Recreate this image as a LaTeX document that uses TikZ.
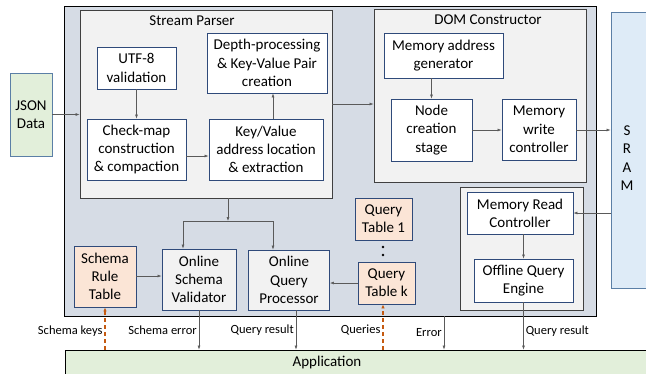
\documentclass[tikz,border=0pt]{standalone}
\usepackage{fontspec}
\setmainfont{Carlito}
\usepackage{tikz}
\usetikzlibrary{arrows.meta, positioning, calc}
\definecolor{chipbg}{RGB}{214,220,229}
\definecolor{groupbg}{RGB}{242,242,242}
\definecolor{navyline}{RGB}{47,74,122}
\definecolor{datagreen}{RGB}{226,239,218}
\definecolor{tablepeach}{RGB}{251,229,214}
\definecolor{srambg}{RGB}{222,235,247}
\definecolor{sramline}{RGB}{91,127,166}
\definecolor{keyorange}{RGB}{197,90,17}
\definecolor{wiregray}{RGB}{90,90,90}

\begin{document}
\begin{tikzpicture}[x=1pt, y=-1pt,
    box/.style={draw=navyline, line width=0.9pt, fill=white, align=center, inner sep=0pt,
                font=\fontsize{15}{18.3}\selectfont},
    graybox/.style={box, fill=groupbg},
    tablebox/.style={box, fill=tablepeach},
    group/.style={draw=black!75, line width=0.9pt, fill=groupbg, inner sep=0pt},
    title/.style={font=\fontsize{15}{18.3}\selectfont},
    lbl/.style={font=\fontsize{12.5}{14}\selectfont, inner sep=2pt},
    arr/.style={draw=wiregray, line width=0.6pt, -{Latex[length=4pt, width=3pt]}},
    keyarr/.style={draw=keyorange, line width=1.1pt, dashed, dash pattern=on 4pt off 3pt,
                   -{Latex[length=4pt, width=3.5pt]}}]
    \useasboundingbox (0,0) rectangle (646,373);

    % Chip container
    \node[draw=black, line width=0.9pt, fill=chipbg, minimum width=532pt, minimum height=310pt, inner sep=0pt]
        (chip) at (330,161) {};

    % Outside blocks
    \node[draw=sramline, line width=0.9pt, fill=srambg, minimum width=50pt, minimum height=276pt, inner sep=0pt]
        (sram) at (636,150) {};
    \node[title, align=center] (sramtxt) at (627,158) {S\\R\\A\\M};
    \node[draw=black, line width=0.9pt, fill=datagreen, minimum width=600pt, minimum height=30pt, inner sep=0pt]
        (app) at (365,365) {};
    \node[title] (apptxt) at (327,362) {Application};
    \node[box, draw=sramline, fill=datagreen, minimum width=42pt, minimum height=83pt]
        (json) at (31,114.5) {JSON\\Data};

    % Stream parser
    \node[group, minimum width=252pt, minimum height=188pt] (parser) at (206,104) {};
    \node[title] (parsertitle) at (192,21) {Stream Parser};
    \node[box, minimum width=79pt, minimum height=42pt] (utf) at (136.5,68) {UTF-8\\validation};
    \node[box, minimum width=99pt, minimum height=61pt] (check) at (136.5,149.5) {Check-map\\construction\\\& compaction};
    \node[box, minimum width=114pt, minimum height=61pt] (kv) at (266,149.5) {Key/Value\\address location\\\& extraction};
    \node[box, minimum width=120pt, minimum height=60pt] (depth) at (267,63) {Depth-processing\\\& Key-Value Pair\\creation};

    % DOM constructor
    \node[group, minimum width=212pt, minimum height=173pt] (dom) at (480,95.5) {};
    \node[title] (domtitle) at (488,20) {DOM Constructor};
    \node[box, minimum width=119pt, minimum height=45pt] (maddr) at (443.5,55.5) {Memory address\\generator};
    \node[box, minimum width=81pt, minimum height=62pt] (ncs) at (431.5,130) {Node\\creation\\stage};
    \node[box, minimum width=74pt, minimum height=61pt] (mwc) at (539,129.5) {Memory\\write\\controller};

    % Offline path
    \node[group, minimum width=123pt, minimum height=123pt] (offline) at (521.5,248.5) {};
    \node[box, minimum width=106pt, minimum height=42pt] (mrc) at (520,213) {Memory Read\\Controller};
    \node[box, minimum width=99pt, minimum height=43pt] (oqe) at (523.5,280.5) {Offline Query\\Engine};

    % Online path
    \node[tablebox, minimum width=62pt, minimum height=61pt] (srt) at (105,276.5) {Schema\\Rule\\Table};
    \node[graybox, minimum width=74pt, minimum height=61pt] (osv) at (199,279.5) {Online\\Schema\\Validator};
    \node[graybox, minimum width=81pt, minimum height=60pt] (oqp) at (289,280) {Online\\Query\\Processor};
    \node[tablebox, minimum width=57pt, minimum height=42pt] (qt1) at (383.5,219) {Query\\Table 1};
    \node[tablebox, minimum width=57pt, minimum height=42pt] (qtk) at (386.5,283) {Query\\Table k};
    \fill (383,247) circle (1.4pt) (383,255) circle (1.4pt);

    % Connectors inside
    \draw[arr] (json.east) -- (json.east -| parser.west);
    \draw[arr] (utf.south) -- (check.north);
    \draw[arr] (check.east |- 0,156) -- (kv.west |- 0,156);
    \draw[arr] ([xshift=7pt]kv.north) -- ([xshift=7pt]kv.north |- depth.south);
    \draw[arr] (parser.east |- 0,104) -- (dom.west |- 0,104);
    \draw[arr] (ncs.north |- maddr.south) -- (ncs.north);
    \draw[arr] (ncs.east) -- (ncs.east -| mwc.west);
    \draw[arr] (mwc.east |- 0,130) -- (sram.west |- 0,130);
    \draw[arr] (mrc.east -| sram.west) -- (mrc.east);
    \draw[arr] (oqe.north |- mrc.south) -- (oqe.north);

    \coordinate (split) at (228,221);
    \draw[arr] (parser.south -| split) -- (split);
    \draw[arr] (split) -| ([xshift=-16pt]osv.north);
    \draw[arr] (split) -| ([xshift=-16pt]oqp.north);
    \draw[arr] (srt.east |- 0,276) -- (osv.west |- 0,276);
    \draw[arr] (qtk.west) -- (qtk.west -| oqp.east);

    % To and from the application
    \draw[keyarr] (app.north -| srt.south) -- node[lbl, left, yshift=-3pt] {Schema keys} (srt.south);
    \draw[keyarr] ([xshift=-3.5pt]app.north -| qtk.south) -- node[lbl, left, yshift=-3pt] {Queries} ([xshift=-3.5pt]qtk.south);
    \draw[arr] (osv.south) -- node[lbl, left] {Schema error} (osv.south |- app.north);
    \draw[arr] ([xshift=7pt]oqp.south) -- node[lbl, left] {Query result} ([xshift=7pt]oqp.south |- app.north);
    \draw[arr] (chip.south -| 444,0) -- node[lbl, left] {Error} (app.north -| 444,0);
    \draw[arr] (oqe.south) -- node[lbl, right, pos=0.62] {Query result} (oqe.south |- app.north);
\end{tikzpicture}
\end{document}
